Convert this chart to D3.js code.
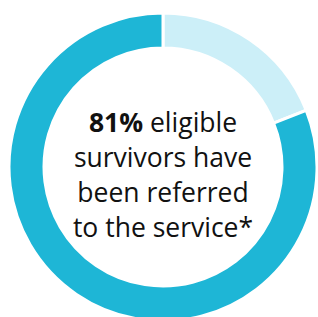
<!DOCTYPE html>
<html><head><meta charset="utf-8">
<script src="https://cdn.jsdelivr.net/npm/d3@7"></script>
<style>html,body{margin:0;padding:0;background:#fff;overflow:hidden}</style>
</head><body>
<svg id="c" width="318" height="317"></svg>
<script>
const categories = ["Referred", "Not referred"];
const values = [81, 19];
const colors = ["#1EB6D6", "#CCEFF8"];
const labelLines = [["81%", " eligible"], ["survivors have"], ["been referred"], ["to the service*"]];

const svg = d3.select("#c");
const cx = 163, cy = 167, rOuter = 154, rInner = 119;
const g = svg.append("g").attr("transform", `translate(${cx},${cy})`);

// light segment first, starting at 12 o'clock, clockwise
const data = [{k: categories[1], v: values[1], c: colors[1]}, {k: categories[0], v: values[0], c: colors[0]}];
const pie = d3.pie().value(d => d.v).sort(null);
const arc = d3.arc().innerRadius(rInner).outerRadius(rOuter);
g.selectAll("path").data(pie(data)).join("path")
  .attr("d", arc).attr("fill", d => d.data.c)
  .attr("stroke", "#fff").attr("stroke-width", 3);

const fs = 26.5, lh = 35;
const text = g.append("text").attr("text-anchor", "middle")
  .attr("font-family", "'Open Sans', sans-serif").attr("font-size", fs).attr("fill", "#111");
labelLines.forEach((parts, i) => {
  const line = text.append("tspan").attr("x", 0).attr("y", -35 + i * lh);
  parts.forEach((p, j) => {
    line.append("tspan").text(p).attr("font-weight", (i === 0 && j === 0) ? "bold" : "normal");
  });
});
</script>
</body></html>
